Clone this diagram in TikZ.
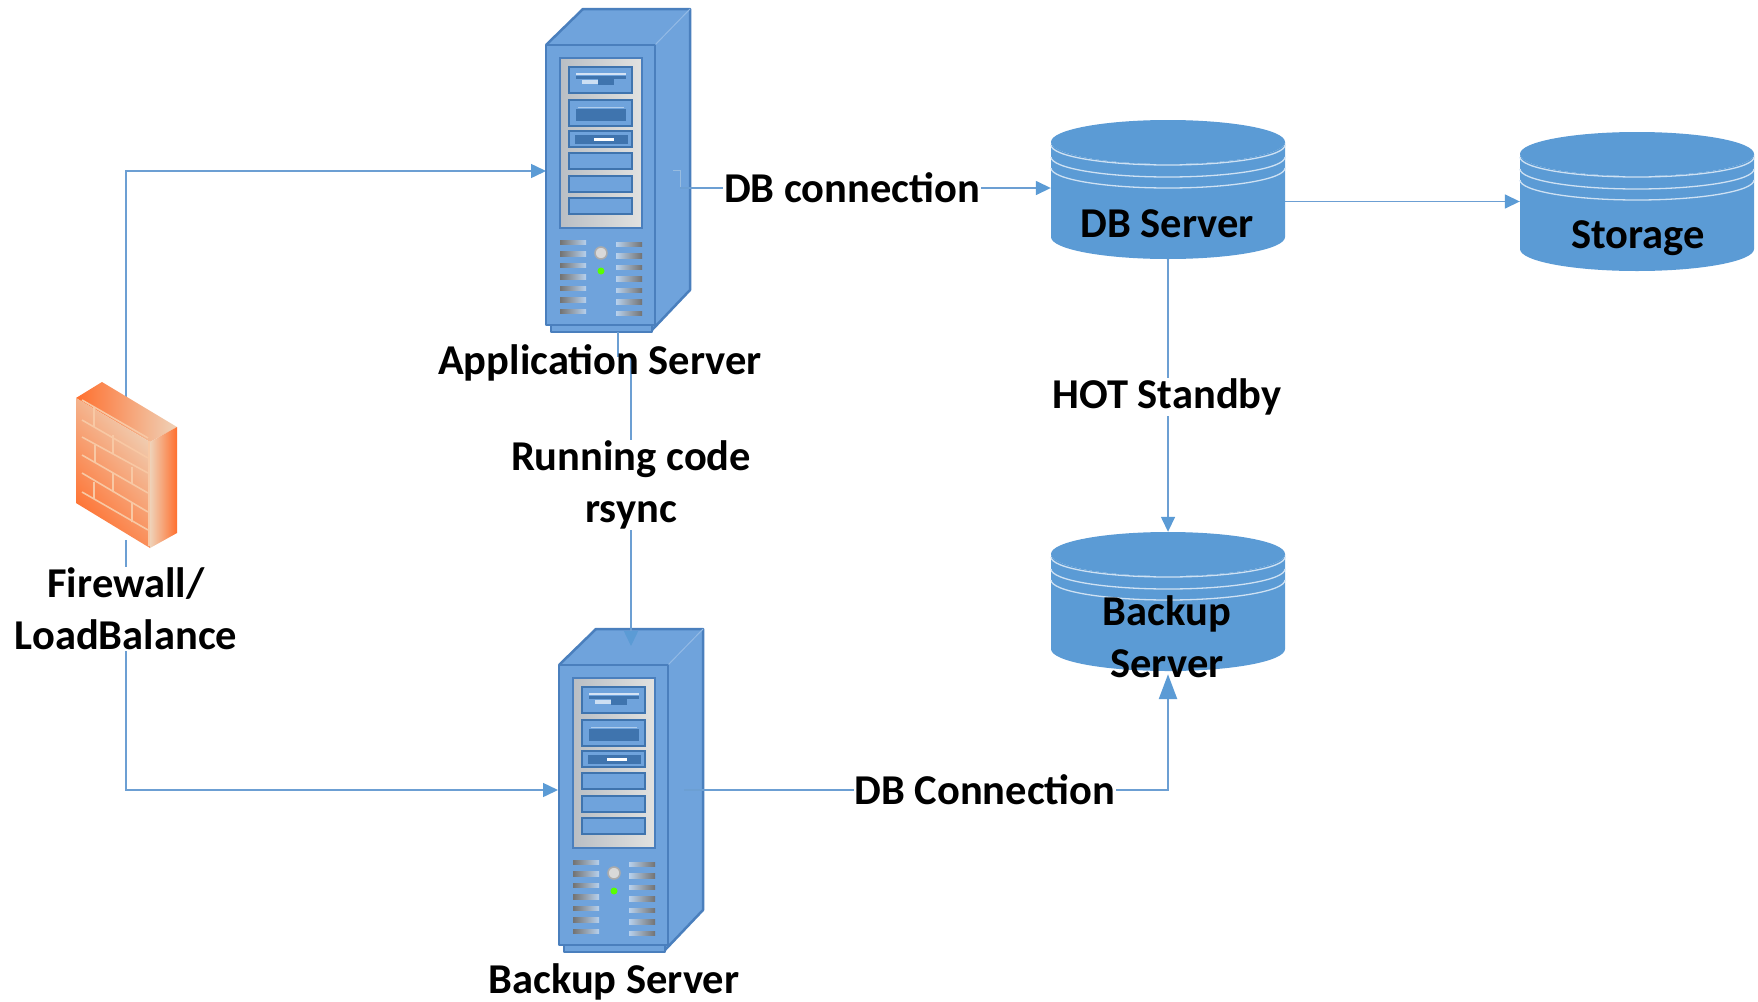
\documentclass[tikz,border=0pt]{standalone}
\usepackage{fontspec}
\setmainfont{Carlito}[BoldFont={Carlito Bold}]
\usetikzlibrary{arrows.meta,calc}
\definecolor{srvfill}{HTML}{6FA3DC}
\definecolor{srvline}{HTML}{4A7FBD}
\definecolor{srvdark}{HTML}{3F74AE}
\definecolor{dbfill}{HTML}{5B9BD5}
\definecolor{conn}{HTML}{6C9FD3}
\definecolor{bezA}{HTML}{B9BEC4}
\definecolor{bezB}{HTML}{E2E2E0}
\definecolor{brickA}{HTML}{FF6F2E}
\definecolor{brickB}{HTML}{EFD2B8}
\definecolor{brickL}{HTML}{F8C8A4}
\tikzset{
  x=1pt,y=-1pt,
  lab/.style={font=\bfseries\fontsize{42.5}{52}\selectfont,text=black,align=center,inner sep=1pt},
  labw/.style={lab,fill=white},
  wire/.style={draw=conn,line width=1.5pt},
  arr/.style={wire,-{Triangle[length=15pt,width=14pt,color=dbfill]}},
  srvbody/.style={draw=srvline,line width=2.5pt,fill=srvfill,line join=round},
}
\newcommand{\serverpic}[3]{% name, x, y
  \begin{scope}[shift={(#2,#3)}]
    \fill[srvfill] (0,0) -- (37,-36) -- (144,-36) -- (144,245) -- (106,285) -- (106,0) -- cycle;
    \draw[draw=srvline,line width=2.5pt,line join=round] (0,0) -- (37,-36) -- (144,-36) -- (144,245) -- (106,285);
    \draw[white!25!srvfill,line width=1pt] (109,0) -- (144,-36);
    \draw[srvbody] (5,280) rectangle (106,287);
    \draw[srvbody] (0,0) rectangle (109,280);
    \shade[left color=bezA,right color=bezB,draw=srvline,line width=2pt] (14,13) rectangle (96,183);
    \foreach \a/\b in {22/48,55/81,86/102,108/124,131/147,153/169}{
      \fill[srvfill,draw=srvdark,line width=2pt] (23,\a) rectangle (86,\b);
    }
    % drive details
    \draw[white!70!srvfill,line width=1.5pt] (30,29) -- (80,29);
    \fill[srvdark] (30,31) rectangle (80,34);
    \fill[white!65!srvfill] (36,35) rectangle (52,39);
    \fill[srvdark] (52,34) rectangle (68,40);
    \fill[srvdark] (30,64) rectangle (80,76);
    \draw[white!45!srvfill,line width=1pt] (32,62) -- (78,62);
    \fill[srvdark] (29,90) rectangle (82,99);
    \fill[white] (48,93) rectangle (68,95.5);
    \foreach \k in {0,1,...,6}{
      \shade[left color=gray!90!black,right color=white!50!srvfill] (14,{195+11.5*\k}) rectangle (40,{199.5+11.5*\k});
      \shade[right color=gray!90!black,left color=white!50!srvfill] (70,{197+11.5*\k}) rectangle (96,{201.5+11.5*\k});
    }
    \fill[gray!30,draw=gray!65,line width=1.5pt] (55,208) circle (6);
    \fill[green!65!yellow] (55,226) circle (3.5);
    \node[inner sep=0pt,minimum width=144pt,minimum height=323pt] (#1) at (72,125) {};
  \end{scope}
}
\newcommand{\dbpic}[3]{% name, left x, top y
  \begin{scope}[shift={(#2,#3)}]
    \fill[dbfill] (0,22) arc[x radius=117,y radius=22,start angle=180,end angle=0] -- (234,117)
       arc[x radius=117,y radius=22,start angle=0,end angle=180] -- cycle;
    \fill[dbfill] (117,22) ellipse[x radius=117,y radius=22];
    \foreach \d in {0,12,23}{
      \draw[white!70!dbfill,line width=1.3pt] (0,{25+\d}) arc[x radius=117,y radius=20,start angle=180,end angle=0];
    }
    \node[inner sep=0pt,minimum width=234pt,minimum height=139pt] (#1) at (117,69.5) {};
  \end{scope}
}
\begin{document}
\begin{tikzpicture}
\useasboundingbox (0,0) rectangle (1758,1001);
\fill[white] (0,0) rectangle (1758,1001);

\coordinate (fwTop) at (126,400);
\coordinate (fwBot) at (126,540);
\coordinate (appIn) at (546,171);
\coordinate (bakIn) at (558,790);
\coordinate (appOut) at (673,170);
\coordinate (appRight) at (680,188);
\coordinate (appBot) at (618,332);
\coordinate (appJog) at (631,356);
\coordinate (bakTop) at (631,646);
\coordinate (bakOut) at (684,790);

% connectors under the shapes
\draw[arr] (fwTop) |- (appIn);
\draw[arr] (fwBot) |- (bakIn);

% servers
\serverpic{app}{546}{45}
\serverpic{bak}{559}{665}

% databases
\dbpic{db}{1051}{120}
\dbpic{store}{1520}{132}
\dbpic{bdb}{1051}{532}

% firewall
\begin{scope}
  \shade[left color=brickA,right color=brickB] (76,398) -- (102,382) -- (177,427) -- (150,442) -- cycle;
  \shade[shading=axis,bottom color=brickA,middle color=brickA!85!brickB,top color=brickB,shading angle=-50]
     (76,398) -- (150,442) -- (150,548) -- (76,503) -- cycle;
  \shade[left color=brickB,right color=brickA] (150,442) -- (177,427) -- (177,533) -- (150,548) -- cycle;
  \draw[brickL,line width=1.6pt]
    (82,400) -- (148,438) (82,420) -- (148,458) (82,437) -- (148,473)
    (82,455) -- (148,493) (82,473) -- (148,512) (82,492) -- (148,530)
    (94,407) -- (94,427) (95,445) -- (95,462) (94,482) -- (94,498)
    (113,435) -- (113,453) (113,473) -- (113,492)
    (132,467) -- (132,483) (132,503) -- (132,522)
    (149,441) -- (149,546);
\end{scope}
\node[inner sep=0pt,minimum width=102pt,minimum height=168pt] (fw) at (127,465) {};

% connectors over the shapes
\draw[draw=white!30!conn,line width=1pt] (appOut) -- (appOut -| appRight) -- (appRight);
\draw[arr] (appRight) -- (db.west |- appRight);
\draw[arr] (db.east |- store.west) -- (store.west);
\draw[arr] (db.south) -- (bdb.north);
\draw[arr] (appBot) |- (appJog) -- (bakTop);
\draw[wire,line width=2.5pt,-{Triangle[length=25pt,width=18pt,color=dbfill]},shorten >=3pt] (bakOut) -| (bdb.south);

% labels
\node[labw] (lconn) at (852,188) {DB connection};
\node[lab] (lapp) at (600,363) {Application Server};
\node[labw] (lrun) at (631,485) {Running code\\rsync};
\node[labw] (lhot) at (1167,397) {HOT Standby};
\node[labw] (lfw) at (126,609) {Firewall/\\LoadBalance};
\node[labw] (lbconn) at (985,790) {DB Connection};
\node[lab] (lbak) at (614,982) {Backup Server};
\node[lab] (ldb) at (1167,224) {DB Server};
\node[lab] (lst) at (1638,238) {Storage};
\node[lab] (lbdb) at (1167,637) {Backup\\Server};
\end{tikzpicture}
\end{document}
